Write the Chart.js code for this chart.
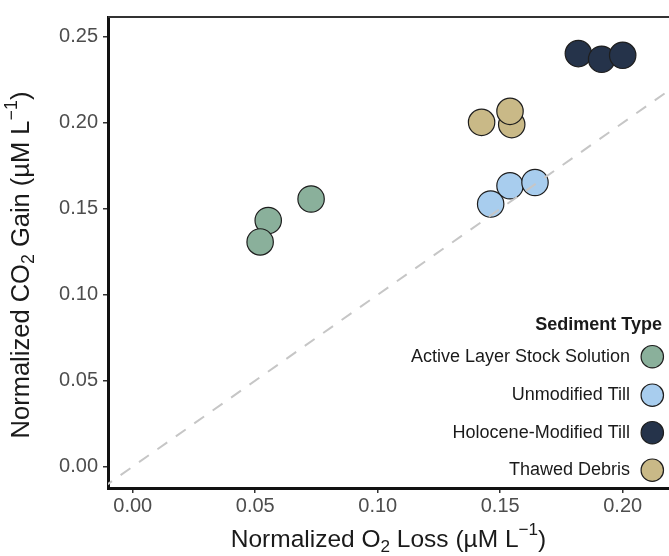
<!DOCTYPE html>
<html><head><meta charset="utf-8">
<script src="https://cdn.jsdelivr.net/npm/chart.js@4.4.1/dist/chart.umd.min.js"></script>
<style>html,body{margin:0;padding:0;background:#fff;} canvas{display:block;}</style>
</head><body>
<canvas id="c" width="669" height="556" style="width:669px;height:556px"></canvas>
<script>
// ---- data ----
const seriesNames = ['Active Layer Stock Solution', 'Unmodified Till', 'Holocene-Modified Till', 'Thawed Debris'];
const seriesColors = ['#8AB09B', '#A8CDEE', '#25334A', '#C9B987'];
const activeX = [0.0553, 0.0520, 0.0728];
const activeY = [0.1432, 0.1307, 0.1557];
const unmodX = [0.1461, 0.1540, 0.1642];
const unmodY = [0.1528, 0.1634, 0.1653];
const holoX = [0.1819, 0.1914, 0.2000];
const holoY = [0.2403, 0.2370, 0.2393];
const thawX = [0.1424, 0.1547, 0.1540];
const thawY = [0.2003, 0.1990, 0.2067];
const refLineX = [-0.02, 0.25];
const refLineY = [-0.02, 0.25];
const xTicks = [0.00, 0.05, 0.10, 0.15, 0.20];
const yTicks = [0.00, 0.05, 0.10, 0.15, 0.20, 0.25];
const legendTitle = 'Sediment Type';
const xTitleParts = [['Normalized O', 'n'], ['2', 'sub'], [' Loss (µM L', 'n'], ['−1', 'sup'], [')', 'n']];
const yTitleParts = [['Normalized CO', 'n'], ['2', 'sub'], [' Gain (µM L', 'n'], ['−1', 'sup'], [')', 'n']];

const FONT = '"Liberation Sans", Arial, Helvetica, sans-serif';
const pts = (xs, ys) => xs.map((x, i) => ({x: x, y: ys[i]}));
const seriesX = [activeX, unmodX, holoX, thawX];
const seriesY = [activeY, unmodY, holoY, thawY];

const datasets = [{
  label: 'ref', type: 'line', data: pts(refLineX, refLineY),
  borderColor: '#c6c6c6', borderWidth: 2, borderDash: [12, 10.5],
  pointRadius: 0, showLine: true, fill: false, order: 0
}];
seriesNames.forEach((n, i) => datasets.push({
  label: n, data: pts(seriesX[i], seriesY[i]),
  backgroundColor: seriesColors[i], borderColor: '#1e1e1e', borderWidth: 1.2,
  pointRadius: 13.2, pointHoverRadius: 13.2, order: 1
}));

function drawRich(ctx, parts, size) {
  const small = size * 0.7;
  let w = 0;
  const widths = parts.map(p => {
    ctx.font = (p[1] === 'n' ? size : small) + 'px ' + FONT;
    const m = ctx.measureText(p[0]).width; w += m; return m;
  });
  let x = -w / 2;
  parts.forEach((p, i) => {
    ctx.font = (p[1] === 'n' ? size : small) + 'px ' + FONT;
    let dy = 0;
    if (p[1] === 'sub') dy = size * 0.28;
    if (p[1] === 'sup') dy = -size * 0.38;
    ctx.textAlign = 'left'; ctx.textBaseline = 'middle';
    ctx.fillText(p[0], x, dy);
    x += widths[i];
  });
}

const decor = {
  id: 'decor',
  afterDraw(chart) {
    const ctx = chart.ctx, ca = chart.chartArea;
    ctx.save();
    ctx.strokeStyle = '#333'; ctx.lineWidth = 2;
    ctx.beginPath(); ctx.moveTo(ca.left, ca.top); ctx.lineTo(ca.right, ca.top); ctx.stroke();
    ctx.fillStyle = '#1a1a1a';
    ctx.save(); ctx.translate((ca.left + ca.right) / 2, 540); drawRich(ctx, xTitleParts, 24.5); ctx.restore();
    ctx.save(); ctx.translate(22, 265); ctx.rotate(-Math.PI / 2); drawRich(ctx, yTitleParts, 25.5); ctx.restore();
    ctx.textAlign = 'right'; ctx.textBaseline = 'middle';
    ctx.font = 'bold 18px ' + FONT;
    ctx.fillText(legendTitle, 662, 325);
    ctx.font = '18px ' + FONT;
    const rowY = [356.7, 395.2, 432.7, 470.2];
    chart.data.datasets.filter(d => d.label !== 'ref').forEach((d, i) => {
      ctx.fillStyle = '#1a1a1a';
      ctx.fillText(d.label, 630, rowY[i]);
      ctx.beginPath(); ctx.arc(652.3, rowY[i], 11.2, 0, Math.PI * 2);
      ctx.fillStyle = d.backgroundColor; ctx.fill();
      ctx.strokeStyle = '#1e1e1e'; ctx.lineWidth = 1.2; ctx.stroke();
    });
    ctx.restore();
  }
};

new Chart(document.getElementById('c'), {
  type: 'scatter',
  data: {datasets: datasets},
  options: {
    responsive: false, animation: false, devicePixelRatio: 1,
    layout: {autoPadding: false, padding: {top: 13, right: 0, left: 0, bottom: 0}},
    plugins: {legend: {display: false}, tooltip: {enabled: false}},
    scales: {
      x: {
        type: 'linear', min: -0.0101, max: 0.2189,
        afterFit: s => { s.height = 68; },
        afterBuildTicks: s => { s.ticks = xTicks.map(v => ({value: v})); },
        ticks: {callback: v => v.toFixed(2), color: '#4d4d4d', font: {family: FONT, size: 20}, padding: 1},
        grid: {drawOnChartArea: false, drawTicks: true, tickLength: 5, color: '#333', lineWidth: 1.5},
        border: {display: true, color: '#111', width: 3},
        title: {display: false}
      },
      y: {
        type: 'linear', min: -0.01246, max: 0.2616,
        afterFit: s => { s.width = 108; },
        afterBuildTicks: s => { s.ticks = yTicks.map(v => ({value: v})); },
        ticks: {callback: v => v.toFixed(2), color: '#4d4d4d', font: {family: FONT, size: 20}, padding: 5},
        grid: {drawOnChartArea: false, drawTicks: true, tickLength: 5, color: '#333', lineWidth: 1.5},
        border: {display: true, color: '#111', width: 3},
        title: {display: false}
      }
    }
  },
  plugins: [decor]
});
</script>
</body></html>
